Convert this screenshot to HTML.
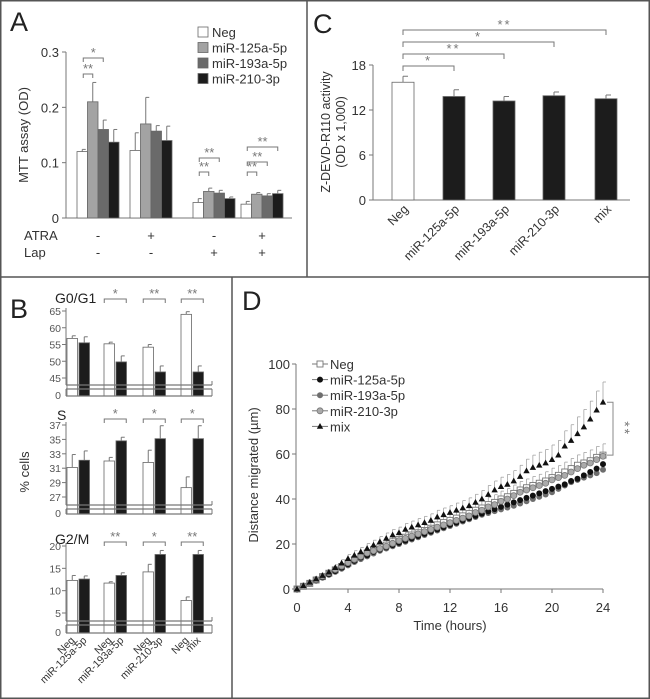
<!DOCTYPE html>
<html><head><meta charset="utf-8"><style>
html,body{margin:0;padding:0;background:#fff;}
svg{display:block;font-family:"Liberation Sans",sans-serif;}
</style></head><body>
<svg id="fig" width="650" height="699" viewBox="0 0 650 699" xmlns="http://www.w3.org/2000/svg">
<rect x="0.75" y="0.75" width="648.5" height="697.5" fill="#fff" stroke="#555" stroke-width="1.5"/>
<line x1="307" y1="0" x2="307" y2="277" stroke="#555" stroke-width="1.5"/>
<line x1="0" y1="277" x2="650" y2="277" stroke="#555" stroke-width="1.5"/>
<line x1="232" y1="277" x2="232" y2="699" stroke="#555" stroke-width="1.5"/>
<g id="pA"></g>
<g id="pB"></g>
<g id="pC"></g>
<g id="pD"></g>
</svg>
<script>
// ---------- Panel A data ----------
const aSeries = ["Neg","miR-125a-5p","miR-193a-5p","miR-210-3p"];
const aGroupAtra = ["-","+","-","+"];
const aGroupLap = ["-","-","+","+"];
const aNeg = [0.120,0.122,0.028,0.025];
const a125 = [0.210,0.170,0.048,0.043];
const a193 = [0.160,0.157,0.045,0.040];
const a210 = [0.137,0.140,0.035,0.044];
const aNegErr = [0.004,0.032,0.007,0.005];
const a125Err = [0.035,0.048,0.006,0.003];
const a193Err = [0.017,0.010,0.005,0.004];
const a210Err = [0.023,0.026,0.003,0.006];
const aTicks = [0,0.1,0.2,0.3];
const aTickLabels = ["0","0.1","0.2","0.3"];
// ---------- Panel B data ----------
const bPairs = ["miR-125a-5p","miR-193a-5p","miR-210-3p","mix"];
const bG1Neg = [56.8,55.2,54.2,64.0];
const bG1Mir = [55.5,49.8,46.8,46.8];
const bG1NegErr = [0.8,0.5,0.8,0.8];
const bG1MirErr = [1.8,1.8,1.8,1.8];
const bSNeg = [31.1,32.0,31.8,28.3];
const bSMir = [32.1,34.8,35.1,35.1];
const bSNegErr = [1.8,0.5,1.7,1.5];
const bSMirErr = [1.3,0.5,1.8,1.8];
const bG2Neg = [12.3,11.7,14.2,7.8];
const bG2Mir = [12.6,13.4,18.1,18.1];
const bG2NegErr = [1.1,0.3,1.7,0.8];
const bG2MirErr = [0.7,0.6,0.9,0.9];
const bG1Sig = ["","*","**","**"];
const bSSig = ["","*","*","*"];
const bG2Sig = ["","**","*","**"];
// ---------- Panel C data ----------
const cCats = ["Neg","miR-125a-5p","miR-193a-5p","miR-210-3p","mix"];
const cVals = [15.7,13.8,13.2,13.9,13.5];
const cErrs = [0.8,0.9,0.6,0.5,0.5];
const cSig = ["","*","**","*","**"];
const cTicks = [0,6,12,18];
// ---------- Panel D data ----------
const dTimes = [0,0.5,1,1.5,2,2.5,3,3.5,4,4.5,5,5.5,6,6.5,7,7.5,8,8.5,9,9.5,10,10.5,11,11.5,12,12.5,13,13.5,14,14.5,15,15.5,16,16.5,17,17.5,18,18.5,19,19.5,20,20.5,21,21.5,22,22.5,23,23.5,24];
const dNeg = [0,1.2,2.5,4,5.5,7,8.5,10,11.5,13,14.5,16,17.5,18.5,19.5,21,22,23,24,25,26,27,28.5,29.5,30.5,31.5,32.5,33.5,35,36,37.5,38.5,40,41,42.5,44,45,46,47,48,49.5,50.5,52,53.5,55,56,57,58.5,59.5];
const d125 = [0,1.3,2.6,4,5.3,6.6,8,9.5,11,12.5,14,15,16.5,17.5,18.5,19.5,20.5,21.5,22.5,23.5,24.5,25.5,26.5,27.5,28.5,29.5,30.5,31.5,32.5,33.5,34.5,35.5,36.5,37.5,38.5,39.5,40.5,41.5,42.5,43.5,44.5,45.5,46.5,48,49,50.5,52,53.5,55.5];
const d193 = [0,1.2,2.4,3.6,5,6.3,7.6,9,10.5,12,13.3,14.5,15.8,17,18,19,20,21,22,23,24,25,26,27,28,29,30,31,32,33,33.8,34.6,35.4,36.2,37,38,39,40,41,42,43,44.5,46,47.5,48.5,49.5,50.5,51.5,53];
const d210 = [0,1.3,2.7,4.2,5.7,7.2,8.7,10.2,11.7,13.2,14.5,16,17,18,19,20.3,21.5,22.5,23.5,24.5,25.5,26.5,27.5,28.5,29.5,30.5,31.5,32.5,34,35,36.5,37.5,39,40,41.5,43,44,45,46,47,48.5,49.5,50.5,52,53.5,55,56,57.5,59];
const dMix = [0,1.5,3,4.5,6,7.5,9.5,11.5,13.5,15,16.5,18,19.5,21,22.5,24,25,26.5,27.5,28.5,29.5,30.5,32,33,34,35,36,37,38.5,40,42,44,45.5,46.5,48,50,52.5,54,55,56,57.5,59.5,63.5,66,69,72,75.5,79.5,83];
const dMixErr = [0,0.5,0.5,0.8,1,1,1.2,1.5,1.8,2,2,2.2,2.2,2.3,2.4,2.5,2.5,2.6,2.7,2.8,2.8,2.9,3,3,3,3.2,3.3,3.5,3.6,3.8,4,4,4.2,4.4,4.6,5,5.2,5.5,5.8,6,6.5,6.5,6.8,7,7.5,7.8,8,8.5,9];
const dNegErr = [0,0.4,0.5,0.6,0.8,1,1.1,1.2,1.3,1.4,1.5,1.6,1.7,1.8,1.9,2,2,2.1,2.2,2.3,2.4,2.5,2.6,2.7,2.8,2.9,3,3,3.1,3.2,3.3,3.4,3.5,3.6,3.7,3.8,3.9,4,4,4.1,4.2,4.3,4.4,4.5,4.6,4.7,4.8,4.9,5];
const dYTicks = [0,20,40,60,80,100];
const dXTicks = [0,4,8,12,16,20,24];

const NS="http://www.w3.org/2000/svg";
function mk(parent,tag,attrs,text){const e=document.createElementNS(NS,tag);for(const k in attrs)e.setAttribute(k,attrs[k]);if(text!==undefined)e.textContent=text;parent.appendChild(e);return e;}
const TXT="#333", AX="#777";

// ================= Panel A =================
(function(){
const g=document.getElementById('pA');
const yA=v=>218-v*553.3;
const groupX=[77,130,193,241], bw=10.5;
let t=mk(g,'text',{x:10,y:31,'font-size':27,fill:'#222'},'A');


let ax=mk(g,'line',{x1:66,y1:yA(0.3),x2:66,y2:yA(0),stroke:AX,'stroke-width':1});


let xa=mk(g,'line',{x1:66,y1:yA(0),x2:292,y2:yA(0),stroke:AX,'stroke-width':1});


aTicks.forEach((v,i)=>{
  mk(g,'line',{x1:62,y1:yA(v),x2:66,y2:yA(v),stroke:AX});
  let l=mk(g,'text',{x:59,y:yA(v)+5,'font-size':13,fill:TXT,'text-anchor':'end'},aTickLabels[i]);
  
  
});
let yl=mk(g,'text',{x:0,y:0,'font-size':13,fill:TXT,'text-anchor':'middle',transform:'translate(28,135) rotate(-90)'},'MTT assay (OD)');


const series=[aNeg,a125,a193,a210], errs=[aNegErr,a125Err,a193Err,a210Err];
const fills=['#fff','#a3a3a3','#6a6a6a','#1c1c1c'];
series.forEach((s,si)=>{
  s.forEach((v,gi)=>{
    const x=groupX[gi]+si*bw;
    let b=mk(g,'rect',{x:x,y:yA(v),width:bw,height:yA(0)-yA(v),fill:fills[si],stroke:'#666','stroke-width':0.8});
    
    
    const e=errs[si][gi];
    mk(g,'line',{x1:x+bw/2,y1:yA(v),x2:x+bw/2,y2:yA(v+e),stroke:'#777'});
    mk(g,'line',{x1:x+bw/2,y1:yA(v+e),x2:x+bw/2+3.5,y2:yA(v+e),stroke:'#777'});
  });
});
mk(g,'text',{x:24,y:240,'font-size':13,fill:TXT},'ATRA');
mk(g,'text',{x:24,y:257,'font-size':13,fill:TXT},'Lap');
groupX.forEach((gx,i)=>{
  const cx=gx+2*bw;
  let a=mk(g,'text',{x:cx,y:240,'font-size':13,fill:TXT,'text-anchor':'middle'},aGroupAtra[i]);
  
  
  let l=mk(g,'text',{x:cx,y:257,'font-size':13,fill:TXT,'text-anchor':'middle'},aGroupLap[i]);
  
  
});
aSeries.forEach((n,i)=>{
  const y=27+i*15.5;
  let sw=mk(g,'rect',{x:198,y:y,width:10,height:10,fill:fills[i],stroke:'#666','stroke-width':0.8});
  
  
  let lt=mk(g,'text',{x:212,y:y+10,'font-size':13,fill:TXT},n);
  
  
});
const br=[[0,1,74,'**'],[0,2,58,'*'],[2,1,172,'**'],[2,2,158,'**'],[3,1,172,'**'],[3,2,162,'**'],[3,3,147,'**']];
br.forEach(b=>{
  const x1=groupX[b[0]]+bw/2+1, x2=groupX[b[0]]+b[1]*bw+bw/2;
  mk(g,'path',{d:`M${x1},${b[2]+4}V${b[2]}H${x2}V${b[2]+4}`,fill:'none',stroke:'#777'});
  let s=mk(g,'text',{x:(x1+x2)/2,y:b[2]-1,'font-size':13,fill:'#777','text-anchor':'middle'},b[3]);
  
  
});
})();

// ================= Panel B =================
(function(){
const g=document.getElementById('pB');
let t=mk(g,'text',{x:10,y:318,'font-size':27,fill:'#222'},'B');


let yl=mk(g,'text',{x:0,y:0,'font-size':13,fill:TXT,'text-anchor':'middle',transform:'translate(29,472) rotate(-90)'},'% cells');


const whiteX=[67,104,143,181], bw=10.5, gap=12;
const subs=[
 {name:'G0/G1',min:45,max:65,minPx:378,maxPx:311,step:5,br1:385,br2:389,zero:396,neg:bG1Neg,mir:bG1Mir,ne:bG1NegErr,me:bG1MirErr,sig:bG1Sig,titleY:303,sigY:299,titleX:55},
 {name:'S',min:27,max:37,minPx:497,maxPx:425,step:2,br1:505,br2:509,zero:514,neg:bSNeg,mir:bSMir,ne:bSNegErr,me:bSMirErr,sig:bSSig,titleY:420,sigY:419,titleX:57},
 {name:'G2/M',min:5,max:20,minPx:613,maxPx:546,step:5,br1:621,br2:625,zero:633,neg:bG2Neg,mir:bG2Mir,ne:bG2NegErr,me:bG2MirErr,sig:bG2Sig,titleY:544,sigY:542,titleX:55}
];
subs.forEach(s=>{
  const per=(s.minPx-s.maxPx)/(s.max-s.min);
  const y=v=>s.minPx-(v-s.min)*per;
  let tt=mk(g,'text',{x:s.titleX,y:s.titleY,'font-size':14,fill:'#222'},s.name);
  
  
  for(let v=s.min;v<=s.max+0.001;v+=s.step){
    mk(g,'line',{x1:62,y1:y(v),x2:66,y2:y(v),stroke:AX});
    let l=mk(g,'text',{x:61,y:y(v)+4,'font-size':10.5,fill:'#555','text-anchor':'end'},String(v));
    
    
  }
  let z=mk(g,'text',{x:61,y:s.zero+3,'font-size':10.5,fill:'#555','text-anchor':'end'},'0');
  
  
  [[s.neg,s.ne,'#fff',0,'neg'],[s.mir,s.me,'#1c1c1c',gap,'mir']].forEach(ser=>{
    ser[0].forEach((v,i)=>{
      const x=whiteX[i]+ser[3];
      let b=mk(g,'rect',{x:x,y:y(v),width:bw,height:s.zero-y(v),fill:ser[2],stroke:'#666','stroke-width':0.8});
      
      
      const e=ser[1][i];
      mk(g,'line',{x1:x+bw/2,y1:y(v),x2:x+bw/2,y2:y(v+e),stroke:'#777'});
      mk(g,'line',{x1:x+bw/2,y1:y(v+e),x2:x+bw/2+3.5,y2:y(v+e),stroke:'#777'});
    });
  });
  mk(g,'line',{x1:66,y1:s.maxPx-3,x2:66,y2:s.br1,stroke:AX});
  mk(g,'line',{x1:66,y1:s.br2,x2:66,y2:s.zero,stroke:AX});
  [s.br1,s.br2,s.zero].forEach(yy=>mk(g,'line',{x1:66,y1:yy,x2:212,y2:yy,stroke:AX,'stroke-width':1.2}));
  mk(g,'line',{x1:212,y1:s.br1-4,x2:212,y2:s.br1,stroke:AX});
  mk(g,'line',{x1:212,y1:s.br2,x2:212,y2:s.zero,stroke:AX});
  s.sig.forEach((lab,i)=>{
    if(!lab)return;
    const x1=whiteX[i]+bw/2-1, x2=whiteX[i]+gap+bw/2+1;
    mk(g,'path',{d:`M${x1-4},${s.sigY+4}V${s.sigY}H${x2+4}V${s.sigY+4}`,fill:'none',stroke:'#777'});
    let st=mk(g,'text',{x:(x1+x2)/2,y:s.sigY-1,'font-size':13,fill:'#777','text-anchor':'middle'},lab);
    
    
  });
});
bPairs.forEach((p,i)=>{
  const xn=whiteX[i]+bw/2+3, xm=whiteX[i]+gap+bw/2+3;
  let a=mk(g,'text',{x:0,y:0,'font-size':10.5,fill:TXT,'text-anchor':'end',transform:`translate(${xn},${641}) rotate(-45)`},'Neg');
  
  
  let b=mk(g,'text',{x:0,y:0,'font-size':10.5,fill:TXT,'text-anchor':'end',transform:`translate(${xm},${641}) rotate(-45)`},p);
  
  
});
})();

// ================= Panel C =================
(function(){
const g=document.getElementById('pC');
const yC=v=>200-v*7.5;
const barX=[392,443,493,543,595], bw=22;
let t=mk(g,'text',{x:313,y:33,'font-size':27,fill:'#222'},'C');


mk(g,'line',{x1:373,y1:yC(18),x2:373,y2:yC(0),stroke:AX});
mk(g,'line',{x1:373,y1:yC(0),x2:630,y2:yC(0),stroke:AX});
cTicks.forEach(v=>{
  mk(g,'line',{x1:369,y1:yC(v),x2:373,y2:yC(v),stroke:AX});
  let l=mk(g,'text',{x:366,y:yC(v)+5,'font-size':13,fill:TXT,'text-anchor':'end'},String(v));
  
  
});
let y1=mk(g,'text',{x:0,y:0,'font-size':12.5,fill:TXT,'text-anchor':'middle',transform:'translate(330,132) rotate(-90)'},'Z-DEVD-R110 activity');


let y2=mk(g,'text',{x:0,y:0,'font-size':12.5,fill:TXT,'text-anchor':'middle',transform:'translate(345,132) rotate(-90)'},'(OD x 1,000)');


cVals.forEach((v,i)=>{
  const x=barX[i];
  let b=mk(g,'rect',{x:x,y:yC(v),width:bw,height:yC(0)-yC(v),fill:i===0?'#fff':'#1c1c1c',stroke:'#666','stroke-width':0.8});
  
  
  mk(g,'line',{x1:x+bw/2,y1:yC(v),x2:x+bw/2,y2:yC(v+cErrs[i]),stroke:'#777'});
  mk(g,'line',{x1:x+bw/2,y1:yC(v+cErrs[i]),x2:x+bw/2+5,y2:yC(v+cErrs[i]),stroke:'#777'});
  let l=mk(g,'text',{x:0,y:0,'font-size':12.5,fill:TXT,'text-anchor':'end',transform:`translate(${x+bw/2+6},${210}) rotate(-45)`},cCats[i]);
  
  
});
const brY=[0,66,54,42,30];
cSig.forEach((lab,i)=>{
  if(!lab)return;
  const x1=barX[0]+bw/2, x2=barX[i]+bw/2, yy=brY[i];
  mk(g,'path',{d:`M${x1},${yy+5}V${yy}H${x2}V${yy+5}`,fill:'none',stroke:'#777'});
  let s=mk(g,'text',{x:(x1+x2)/2,y:yy-1,'font-size':13,fill:'#777','text-anchor':'middle','letter-spacing':'2'},lab);
  
  
});
})();

// ================= Panel D =================
(function(){
const g=document.getElementById('pD');
const xD=t=>297+t*12.75;
const yD=v=>589-v*2.25;
let t=mk(g,'text',{x:242,y:310,'font-size':27,fill:'#222'},'D');


mk(g,'line',{x1:296,y1:yD(100),x2:296,y2:yD(0),stroke:AX});
mk(g,'line',{x1:296,y1:yD(0),x2:xD(24),y2:yD(0),stroke:AX});
dYTicks.forEach(v=>{
  mk(g,'line',{x1:292,y1:yD(v),x2:296,y2:yD(v),stroke:AX});
  let l=mk(g,'text',{x:290,y:yD(v)+5,'font-size':13,fill:TXT,'text-anchor':'end'},String(v));
  
  
});
dXTicks.forEach(v=>{
  mk(g,'line',{x1:xD(v),y1:yD(0),x2:xD(v),y2:yD(0)+4,stroke:AX});
  let l=mk(g,'text',{x:xD(v),y:612,'font-size':13,fill:TXT,'text-anchor':'middle'},String(v));
  
  
});
let xt=mk(g,'text',{x:450,y:630,'font-size':13,fill:TXT,'text-anchor':'middle'},'Time (hours)');


let yt=mk(g,'text',{x:0,y:0,'font-size':13,fill:TXT,'text-anchor':'middle',transform:'translate(258,475) rotate(-90)'},'Distance migrated (µm)');


function marker(par,kind,x,y){
  if(kind==='sq') return mk(par,'rect',{x:x-3,y:y-3,width:6,height:6,fill:'#fff',stroke:'#777','stroke-width':0.9});
  if(kind==='tri') return mk(par,'path',{d:`M${x},${y-3.4}L${x+3.2},${y+2.4}L${x-3.2},${y+2.4}Z`,fill:'#111'});
  const f={c125:'#111',c193:'#6e6e6e',c210:'#aaa'}[kind];
  return mk(par,'circle',{cx:x,cy:y,r:3,fill:f,stroke:kind==='c210'?'#777':'none','stroke-width':0.8});
}
const series=[
 {n:'Neg',v:dNeg,k:'sq',e:dNegErr},
 {n:'miR-193a-5p',v:d193,k:'c193'},
 {n:'miR-125a-5p',v:d125,k:'c125'},
 {n:'miR-210-3p',v:d210,k:'c210'},
 {n:'mix',v:dMix,k:'tri',e:dMixErr}
];
series.forEach(s=>{
  const sg=mk(g,'g',{});
  
  
  if(s.e){
    s.v.forEach((v,i)=>{
      if(!s.e[i])return;
      const x=xD(dTimes[i]);
      mk(sg,'line',{x1:x,y1:yD(v),x2:x,y2:yD(v+s.e[i]),stroke:'#999','stroke-width':0.7});
      mk(sg,'line',{x1:x,y1:yD(v+s.e[i]),x2:x+3,y2:yD(v+s.e[i]),stroke:'#999','stroke-width':0.7});
    });
  }
  s.v.forEach((v,i)=>{
    const m=marker(sg,s.k,xD(dTimes[i]),yD(v));
    
    
  });
});
const leg=[['Neg','sq'],['miR-125a-5p','c125'],['miR-193a-5p','c193'],['miR-210-3p','c210'],['mix','tri']];
leg.forEach((l,i)=>{
  const y=364+i*15.6;
  mk(g,'line',{x1:312,y1:y,x2:328,y2:y,stroke:'#777'});
  marker(g,l[1],320,y);
  let tx=mk(g,'text',{x:330,y:y+5,'font-size':13,fill:TXT},l[0]);
  
  
});
const yTop=yD(dMix[dMix.length-1]), yBot=yD(dNeg[dNeg.length-1]);
mk(g,'path',{d:`M${xD(24)+4},${yTop}H${xD(24)+10}V${yBot}H${xD(24)+4}`,fill:'none',stroke:'#888'});
let st=mk(g,'text',{x:0,y:0,'font-size':14,fill:'#777','text-anchor':'middle','letter-spacing':'2',transform:`translate(${xD(24)+17},${(yTop+yBot)/2}) rotate(90)`},'**');


})();
</script>
</body></html>
